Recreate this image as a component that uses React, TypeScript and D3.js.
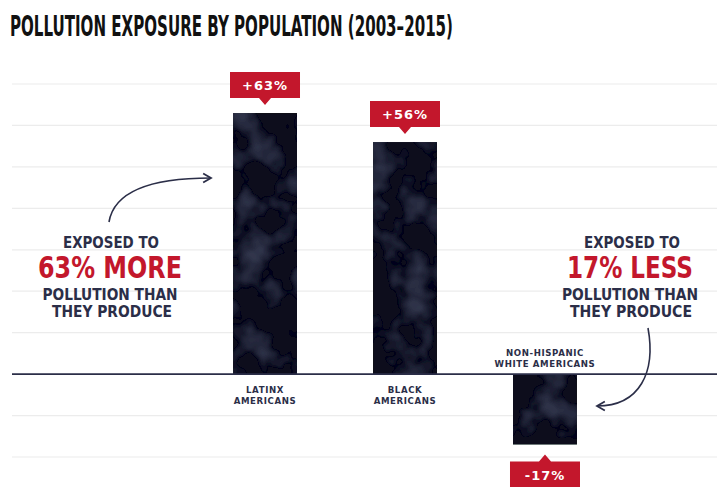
import React from "react";
import * as d3 from "d3";

const categories = ["LATINX AMERICANS", "BLACK AMERICANS", "NON-HISPANIC WHITE AMERICANS"];
const categoryLines = [["LATINX", "AMERICANS"], ["BLACK", "AMERICANS"], ["NON-HISPANIC", "WHITE AMERICANS"]];
const values = [63, 56, -17];
const valueLabels = ["+63%", "+56%", "-17%"];
const gridTicks = [-20, -10, 10, 20, 30, 40, 50, 60, 70];

const W = 717;
const H = 487;
const NAVY = "#2b2e48";
const RED = "#c3172c";
const COND = "'DejaVu Sans Condensed', 'Liberation Sans Narrow', sans-serif";
const WIDE = "'DejaVu Sans', Verdana, sans-serif";

export default function App() {
  const x = d3.scaleBand<string>().domain(categories).range([157, 653]).padding(0.543);
  const y = d3.scaleLinear().domain([-20, 70]).range([457, 84]);
  const bw = x.bandwidth();
  const boxW = 70;
  const boxH = 26;

  const calloutPath = (cx: number, v: number) => {
    if (v >= 0) {
      const top = y(v);
      const bBot = top - 15;
      const bTop = bBot - boxH;
      return `M${cx - boxW / 2},${bTop}H${cx + boxW / 2}V${bBot}H${cx + 6}L${cx},${bBot + 7}L${cx - 6},${bBot}H${cx - boxW / 2}Z`;
    } else {
      const bot = y(v);
      const bTop = bot + 17;
      const bBot = bTop + boxH;
      return `M${cx - boxW / 2},${bTop}H${cx - 6}L${cx},${bTop - 7}L${cx + 6},${bTop}H${cx + boxW / 2}V${bBot}H${cx - boxW / 2}Z`;
    }
  };

  return (
    <svg width={W} height={H} style={{ position: "absolute", left: 0, top: 0, background: "#fff" }}>
      <defs>
        <filter id="tex" x="0" y="0" width="100%" height="100%">
          <feTurbulence type="fractalNoise" baseFrequency="0.03" numOctaves="3" seed="4" result="n" />
          <feColorMatrix in="n" type="matrix"
            values="0 0 0 0 0.11  0 0 0 0 0.13  0 0 0 0 0.23  0 0 0 0.7 -0.32" result="c" />
          <feComposite in="c" in2="SourceGraphic" operator="in" result="cc" />
          <feMerge>
            <feMergeNode in="SourceGraphic" />
            <feMergeNode in="cc" />
          </feMerge>
        </filter>
        <marker id="arrow" viewBox="0 0 10 10" refX="8" refY="5" markerWidth="7" markerHeight="7" orient="auto">
          <path d="M1,1 L8,5 L1,9" fill="none" stroke={NAVY} strokeWidth="1.6" />
        </marker>
      </defs>

      {/* title */}
      <text x={10} y={36} fontFamily={COND} fontWeight="bold" fontSize={29} fill="#111"
        textLength={443} lengthAdjust="spacingAndGlyphs">
        POLLUTION EXPOSURE BY POPULATION (2003–2015)
      </text>

      {/* gridlines */}
      {gridTicks.map((t) => (
        <line key={t} x1={12} x2={W} y1={y(t)} y2={y(t)} stroke="#ececec" strokeWidth={1.2} />
      ))}

      {/* bars */}
      {categories.map((c, i) => {
        const v = values[i];
        const y0 = Math.min(y(0), y(v));
        const h = Math.abs(y(v) - y(0));
        return (
          <rect key={c} x={x(c)!} y={y0} width={bw} height={h} fill="#0a0d1a" filter="url(#tex)" />
        );
      })}

      {/* baseline */}
      <line x1={12} x2={W} y1={y(0)} y2={y(0)} stroke={NAVY} strokeWidth={1.6} />

      {/* callouts */}
      {categories.map((c, i) => {
        const cx = x(c)! + bw / 2;
        const v = values[i];
        const ty = v >= 0 ? y(v) - 15 - boxH / 2 + 5 : y(v) + 17 + boxH / 2 + 5;
        return (
          <g key={c}>
            <path d={calloutPath(cx, v)} fill={RED} />
            <text x={cx} y={ty} textAnchor="middle" fontFamily={WIDE} fontWeight="bold" fontSize={13}
              letterSpacing={1} fill="#fff">
              {valueLabels[i]}
            </text>
          </g>
        );
      })}

      {/* category labels */}
      {categories.map((c, i) => {
        const cx = x(c)! + bw / 2;
        const v = values[i];
        const lines = categoryLines[i];
        const startY = v >= 0 ? y(0) + 19 : y(0) - 18;
        return (
          <text key={c} textAnchor="middle" fontFamily={WIDE} fontWeight="bold" fontSize={8.6}
            letterSpacing={0.6} fill={NAVY}>
            {lines.map((l, j) => (
              <tspan key={j} x={cx} y={startY + j * 11}>{l}</tspan>
            ))}
          </text>
        );
      })}

      {/* left annotation */}
      <path d="M109,222 C114,192 148,178 211,178" fill="none" stroke={NAVY} strokeWidth={1.6} markerEnd="url(#arrow)" />
      <g fontFamily={COND} fontWeight="bold" textAnchor="middle">
        <text x={111} y={248} fontSize={16} fill={NAVY} textLength={96} lengthAdjust="spacingAndGlyphs">EXPOSED TO</text>
        <text x={110} y={278} fontSize={31} fill={RED} textLength={144} lengthAdjust="spacingAndGlyphs">63% MORE</text>
        <text x={110} y={300} fontSize={16} fill={NAVY} textLength={135} lengthAdjust="spacingAndGlyphs">POLLUTION THAN</text>
        <text x={112} y={317} fontSize={16} fill={NAVY} textLength={120} lengthAdjust="spacingAndGlyphs">THEY PRODUCE</text>
      </g>

      {/* right annotation */}
      <path d="M648,328 C656,372 640,406 597,406" fill="none" stroke={NAVY} strokeWidth={1.6} markerEnd="url(#arrow)" />
      <g fontFamily={COND} fontWeight="bold" textAnchor="middle">
        <text x={632} y={248} fontSize={16} fill={NAVY} textLength={96} lengthAdjust="spacingAndGlyphs">EXPOSED TO</text>
        <text x={630} y={278} fontSize={31} fill={RED} textLength={126} lengthAdjust="spacingAndGlyphs">17% LESS</text>
        <text x={630} y={300} fontSize={16} fill={NAVY} textLength={136} lengthAdjust="spacingAndGlyphs">POLLUTION THAN</text>
        <text x={631} y={317} fontSize={16} fill={NAVY} textLength={122} lengthAdjust="spacingAndGlyphs">THEY PRODUCE</text>
      </g>
    </svg>
  );
}
